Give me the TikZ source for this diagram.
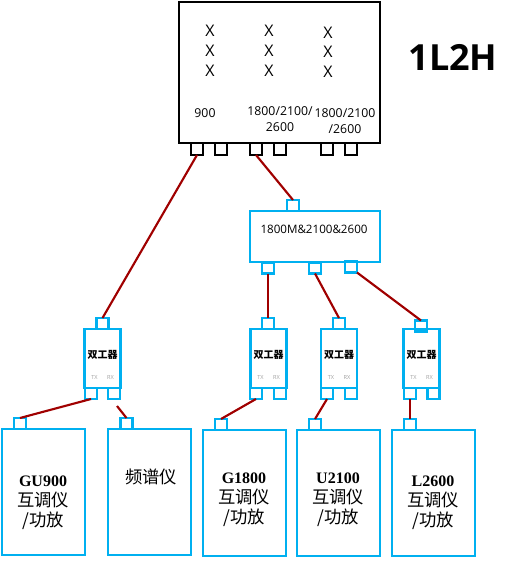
\documentclass[tikz,border=0pt]{standalone}
\usepackage{fontspec}
\usepackage{xcolor}
\setmainfont{Liberation Serif}
\setsansfont{Open Sans}
\newfontfamily\cjk{Noto Sans CJK SC}
\newfontfamily\headfont{Open Sans}
\definecolor{rfBlue}{RGB}{  0,176,240}
\definecolor{rfRed} {RGB}{160,  0,  0}
\definecolor{rfGrey}{RGB}{160,160,160}

\begin{document}
\begin{tikzpicture}[
  x=0.75pt,y=-0.75pt,
  every node/.style={inner sep=0pt,outer sep=0pt},
  rru/.style  ={draw=black,line width=1.7pt,minimum width=150.75pt,minimum height=105.75pt},
  rport/.style={draw=black,line width=1.7pt,minimum width=9pt,minimum height=9pt},
  port/.style ={draw=rfBlue,line width=1.7pt,minimum width=9pt,minimum height=8.25pt},
  comb/.style ={draw=rfBlue,line width=1.7pt,minimum width=97.5pt,minimum height=38.25pt},
  dup/.style  ={draw=rfBlue,line width=1.7pt,minimum width=27pt,minimum height=44.25pt},
  inst/.style ={draw=rfBlue,line width=1.7pt,minimum width=62.25pt,minimum height=94.5pt},
  link/.style ={draw=rfRed,line width=1.6pt},
  xmark/.style={font=\sffamily\fontsize{12}{14}\selectfont},
  band/.style ={font=\sffamily\fontsize{9.2}{12}\selectfont,align=center},
  duptxt/.style={font=\cjk\bfseries\fontsize{7.5}{9}\selectfont},
  tr/.style   ={font=\sffamily\fontsize{4.2}{5}\selectfont,text=rfGrey},
  insttxt/.style={font=\fontsize{13}{15}\selectfont,align=center}
]
% RRU with its ports
\node[rru] (R) at (279.5,72.5) {};
\node[rport] (R1) at (197,149) {};
\node[rport] (R2) at (221,149) {};
\node[rport] (R3) at (256,149) {};
\node[rport] (R4) at (280,149) {};
\node[rport] (R5) at (327,149) {};
\node[rport] (R6) at (351,149) {};
\foreach \px/\py/\n in {210/31/a1,210/51/a2,210/71/a3,269/31/b1,269/51/b2,269/71/b3,328/33/c1,328/52/c2,328/72/c3}
  \node[xmark] (X\n) at (\px,\py) {X};
\node[band] (B900) at (205,113) {900};
\node[band] (B1) at (280,119) {1800/2100/\\2600};
\node[band] (B2) at (345,121) {1800/2100\\/2600};
\node[font=\headfont\bfseries\fontsize{27}{30}\selectfont] (T) at (453,57) {1L2H};

% combiner
\node[comb] (C) at (315,236.5) {};
\node[band,font=\sffamily\fontsize{8.7}{10}\selectfont] (CT) at (314,229) {1800M\&2100\&2600};
\node[port] (C0) at (293,205.5) {};
\node[port] (C1) at (268,268) {};
\node[port] (C2) at (315,268) {};
\node[port] (C3) at (351,267) {};

% duplexers
\foreach \n/\cx/\tx/\ty/\lx/\rx in {1/102.5/102.5/323.5/91/114,2/268.5/268/323.5/256/280,3/339/339/323.5/327/351,4/421.5/421/326/410/433.5}{
  \node[dup] (D\n) at (\cx,358.5) {};
  \node[port] (D\n T) at (\tx,\ty) {};
  \node[port] (D\n L) at (\lx,393.5) {};
  \node[port] (D\n R) at (\rx,393.5) {};
  \node[duptxt] (D\n N) at (\cx,355) {双工器};
  \node[tr] (D\n X) at (\cx-8,377) {TX};
  \node[tr] (D\n Y) at (\cx+8,377) {RX};
}

% instruments
\node[inst] (I1) at (43.5,492) {};
\node[inst] (I2) at (149.5,492) {};
\node[inst] (I3) at (244.5,493) {};
\node[inst] (I4) at (338.5,493) {};
\node[inst] (I5) at (433.5,493) {};
\node[port] (P1) at (20,423.5) {};
\node[port] (P2) at (126.5,423.5) {};
\node[port] (P3) at (221,424.5) {};
\node[port] (P4) at (315,424.5) {};
\node[port] (P5) at (410,424.5) {};
\node[insttxt] (I1T) at (43,503) {{\bfseries\fontsize{12}{15}\selectfont GU900}\\{\cjk 互调仪}\\{\cjk /功放}};
\node[insttxt,font=\cjk\fontsize{13}{15}\selectfont] (I2T) at (151,477) {频谱仪};
\node[insttxt] (I3T) at (244,500) {{\bfseries\fontsize{12}{15}\selectfont G1800}\\{\cjk 互调仪}\\{\cjk /功放}};
\node[insttxt] (I4T) at (338,500) {{\bfseries\fontsize{12}{15}\selectfont U2100}\\{\cjk 互调仪}\\{\cjk /功放}};
\node[insttxt] (I5T) at (433,503) {{\bfseries\fontsize{12}{15}\selectfont L2600}\\{\cjk 互调仪}\\{\cjk /功放}};

\coordinate (Q) at (117,406);

\draw[link] (R1.south) -- (D1T.north);
\draw[link] (R3.south) -- (C0.north);
\draw[link] (C1.south) -- (D2T.north);
\draw[link] (C2.south) -- (D3T.north);
\draw[link] (C3.south east) -- (D4T.north);
\draw[link] (D1L.south) -- (P1.north);
\draw[link] (Q) -- (P2.north);
\draw[link] (D2L.south) -- (P3.north);
\draw[link] (D3L.south) -- (P4.north);
\draw[link] (D4L.south) -- (P5.north);

\useasboundingbox (0,0) rectangle (523,561);
\end{tikzpicture}
\end{document}
